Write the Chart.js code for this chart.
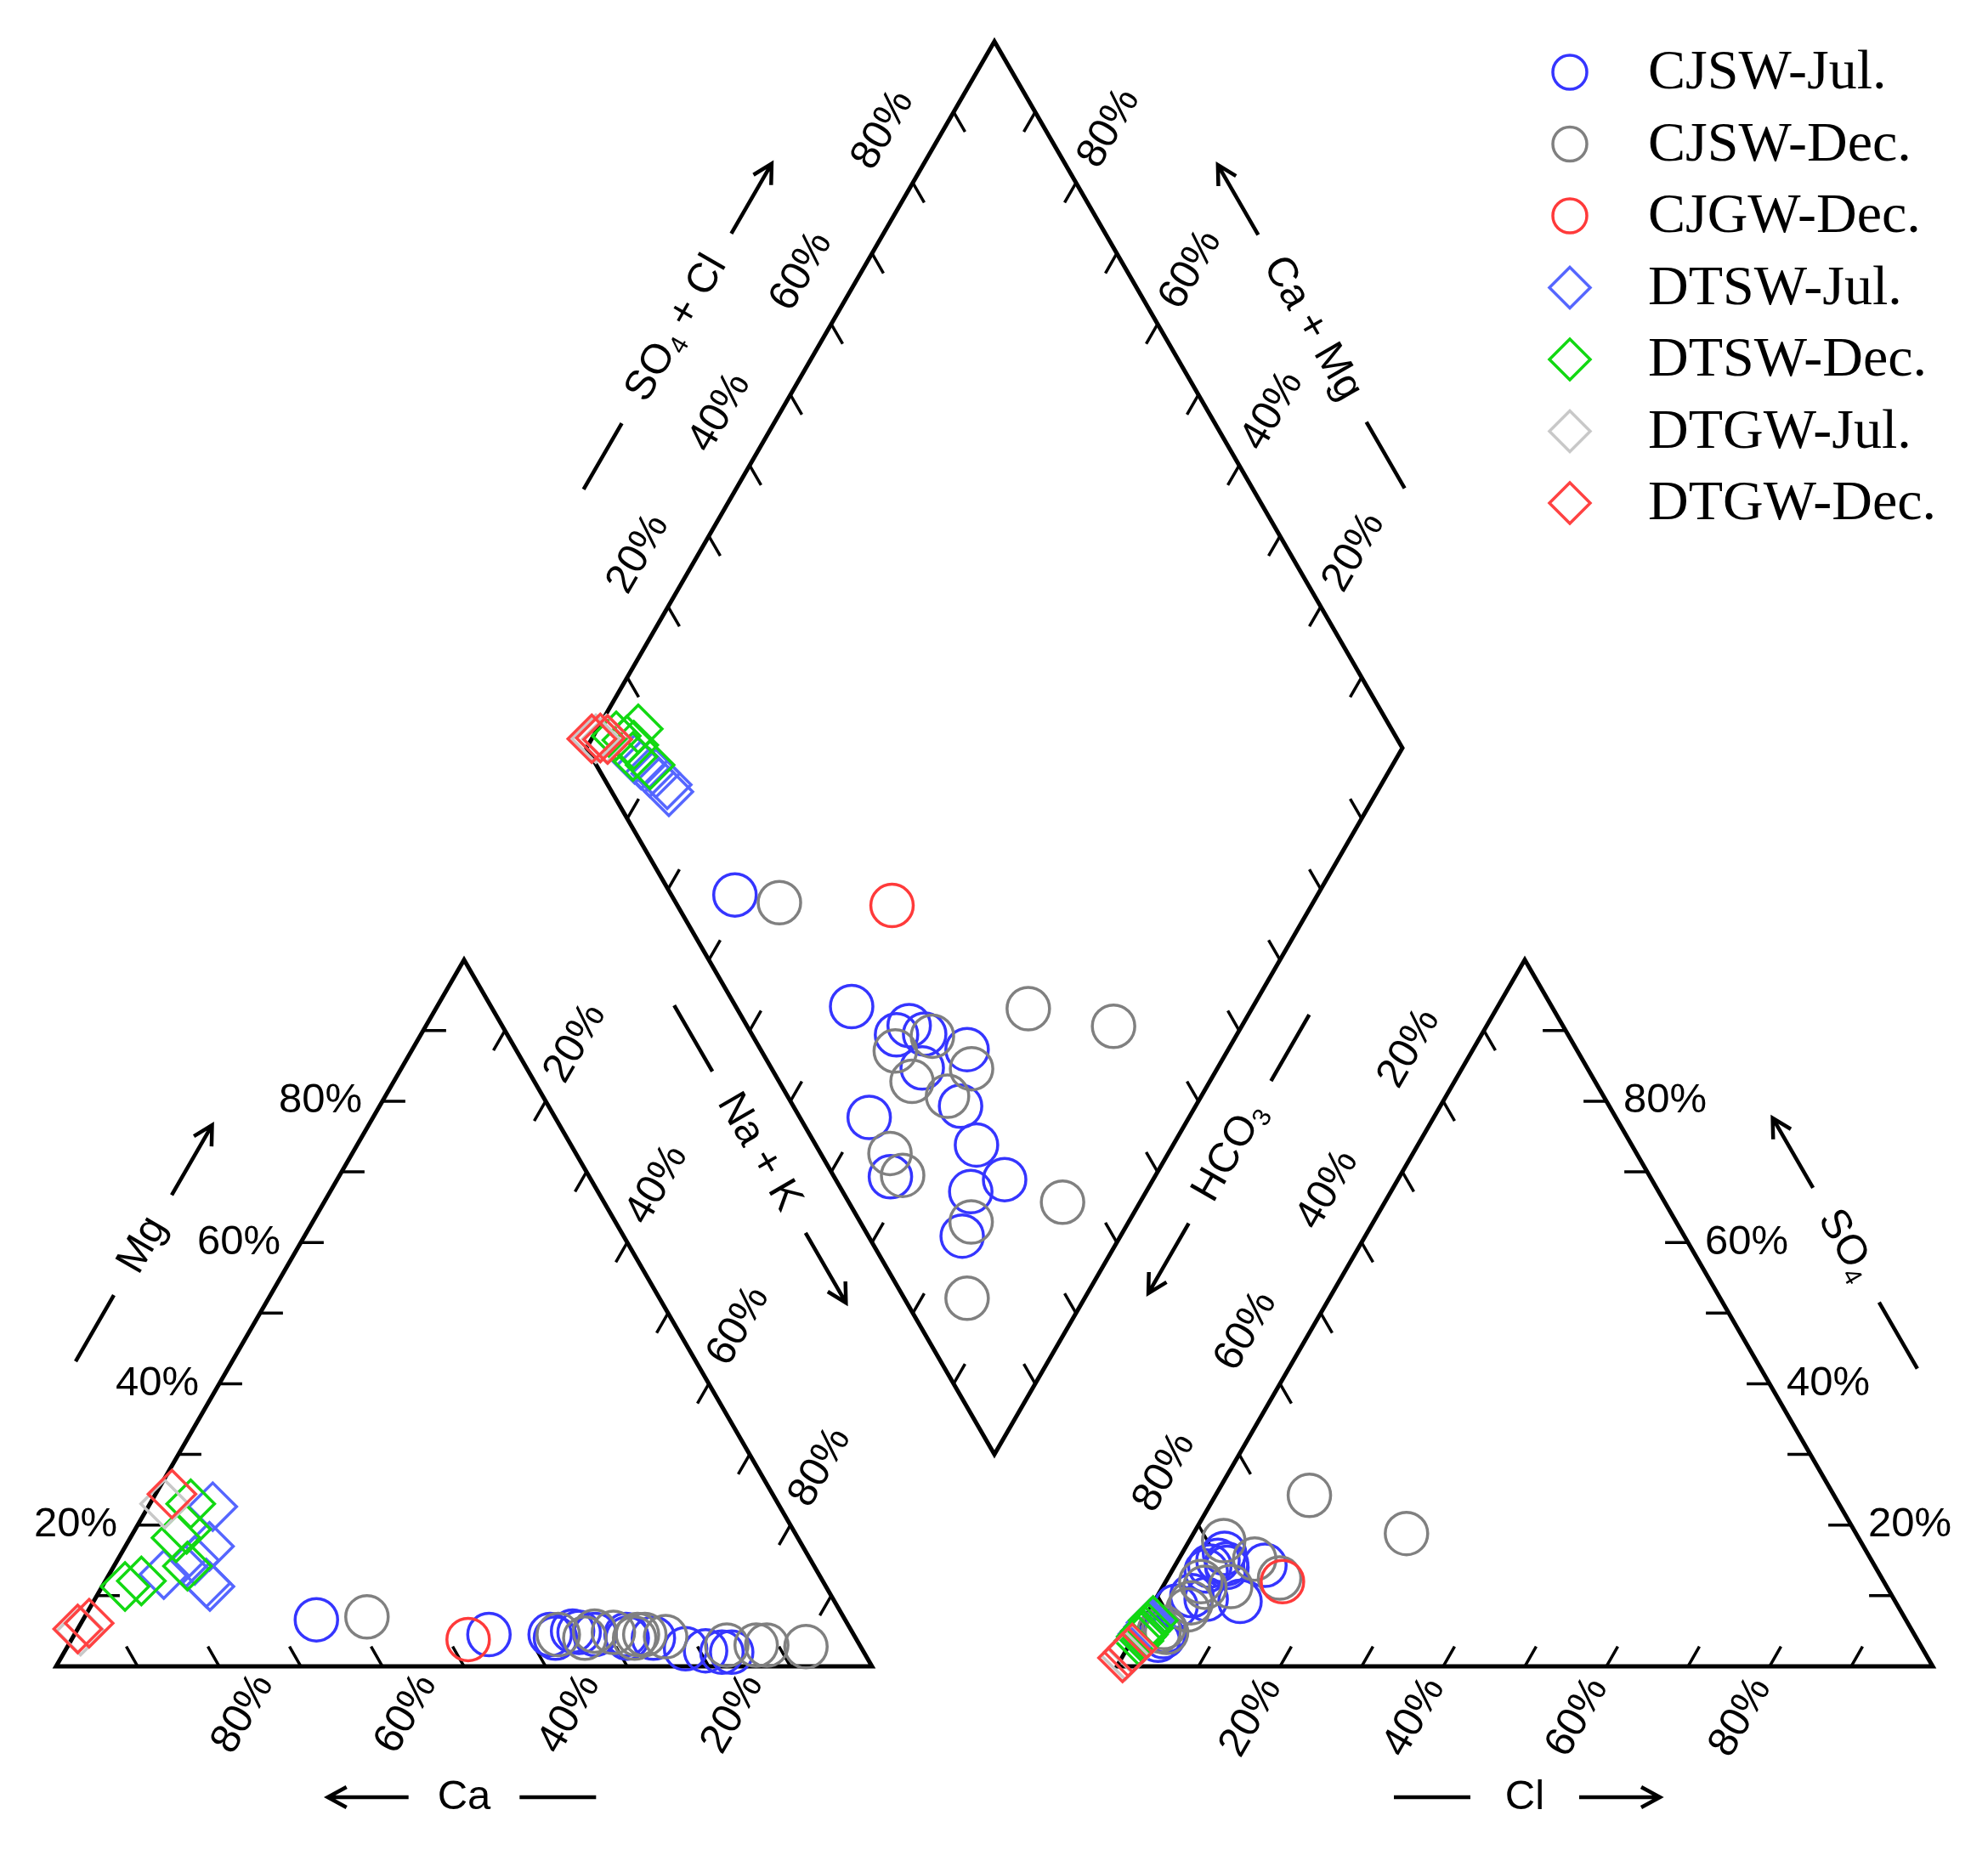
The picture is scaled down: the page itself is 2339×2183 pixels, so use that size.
<!DOCTYPE html>
<html>
<head>
<meta charset="utf-8">
<script src="https://cdn.jsdelivr.net/npm/chart.js@4.4.1/dist/chart.umd.min.js"></script>
<style>
  html, body { margin: 0; padding: 0; background: #fff; }
  #wrap { width: 2339px; height: 2183px; }
</style>
</head>
<body>
<div id="wrap"><canvas id="piper" width="2339" height="2183"></canvas></div>
<script>
// Grupos de muestras (mismo orden que la leyenda)
const grupos = ['CJSW-Jul.', 'CJSW-Dec.', 'CJGW-Dec.', 'DTSW-Jul.', 'DTSW-Dec.', 'DTGW-Jul.', 'DTGW-Dec.'];
const colores = ['#3535ff', '#808080', '#ff3a3a', '#5566ff', '#12d812', '#c8c8c8', '#ff4242'];
const formas = ['circle', 'circle', 'circle', 'rectRot', 'rectRot', 'rectRot', 'rectRot'];

// Porcentajes (meq) por muestra, un arreglo por grupo
const mgPct = [
    [6.6, 4.5, 4.5, 4.0, 4.8, 4.0, 4.5, 5.0, 4.0, 2.5, 2.0, 4.5, 2.2, 2.0],
    [7.0, 4.2, 3.0, 4.5, 4.0, 4.5, 5.0, 4.0, 4.8, 4.5, 3.0, 2.8, 3.0],
    [3.8],
    [22.6, 17.0, 11.8, 13.0, 11.3, 15.0],
    [11.3, 12.1, 19.4, 23.0, 18.2, 14.2],
    [23.0, 5.0],
    [24.4, 5.3, 6.1]
];
const nakPct = [
    [28.6, 50.8, 58.3, 59.2, 61.7, 68.0, 63.8, 60.8, 71.2, 75.9, 81.8, 67.6, 78.5, 80.6],
    [34.6, 72.6, 84.3, 59.3, 62.8, 69.9, 63.5, 68.9, 65.9, 69.0, 80.7, 90.5, 85.6],
    [48.6],
    [7.9, 10.3, 12.5, 6.7, 13.2, 9.5],
    [2.8, 4.4, 6.3, 5.0, 5.6, 9.0],
    [1.8, 0.5],
    [2.0, 0.0, 1.0]
];
const so4Pct = [
    [4.2, 10.0, 13.5, 15.0, 16.0, 14.3, 14.2, 5.0, 14.0, 9.2, 14.5, 3.7, 9.5, 8.5],
    [8.0, 24.2, 18.8, 11.2, 17.8, 15.2, 12.0, 11.3, 4.8, 5.5, 9.0, 12.5, 5.0],
    [12.0],
    [4.6, 5.6, 6.2, 4.2, 5.8, 5.0],
    [3.6, 4.5, 4.2, 6.5, 5.0, 5.4],
    [2.5, 1.5],
    [2.6, 1.2, 2.0]
];
const clPct = [
    [3.6, 4.2, 4.2, 4.9, 5.2, 11.0, 4.3, 3.5, 6.5, 10.5, 6.2, 3.2, 6.2, 3.0],
    [4.7, 11.5, 26.1, 5.2, 4.2, 9.3, 4.3, 8.3, 3.7, 3.0, 4.6, 13.7, 2.7],
    [14.3],
    [0.9, 1.1, 1.1, 0.9, 1.2, 1.0],
    [0.9, 1.0, 0.9, 1.2, 1.0, 1.2],
    [0.6, 0.3],
    [0.6, 0.1, 0.4]
];

// Marcas de los ejes
const marcasPct = [10, 20, 30, 40, 50, 60, 70, 80, 90];
const etiquetasPct = [20, 40, 60, 80];

// Geometría del diagrama de Piper (lado del triángulo = 1)
const G = 0.3;
const S = Math.sqrt(3) / 2;

function cat(mg, nak) { return { x: nak + mg / 2, y: mg * S }; }
function an(so4, cl) { return { x: 1 + G + cl + so4 / 2, y: so4 * S }; }
function dia(camg, so4cl) { return { x: 1 + G / 2 + (so4cl - camg) / 2, y: G * S + S * (camg + so4cl) }; }

const hueco = { x: NaN, y: NaN };

// Contornos
const contorno = [
    cat(0, 0), cat(0, 1), cat(1, 0), cat(0, 0), cat(0, 1), hueco,
    an(0, 0), an(0, 1), an(1, 0), an(0, 0), an(0, 1), hueco,
    dia(0, 0), dia(0, 1), dia(1, 1), dia(1, 0), dia(0, 0), dia(0, 1)
];

// Marcas cortas hacia dentro
const largo = 0.028;
const marcas = [];
marcasPct.forEach(p => {
    const t = p / 100, d = largo;
    marcas.push(cat(0, t), cat(d, t - d), hueco);
    marcas.push(cat(t, 0), cat(t, d), hueco);
    marcas.push(cat(1 - t, t), cat(1 - t - d, t), hueco);
    marcas.push(an(0, t), an(d, t), hueco);
    marcas.push(an(t, 1 - t), an(t, 1 - t - d), hueco);
    marcas.push(an(t, 0), an(t - d, d), hueco);
    marcas.push(dia(1, t), dia(1 - d, t), hueco);
    marcas.push(dia(t, 1), dia(t, 1 - d), hueco);
    marcas.push(dia(t, 0), dia(t, d), hueco);
    marcas.push(dia(0, t), dia(d, t), hueco);
});

// Puntos de cada grupo en los tres diagramas
const datasets = grupos.map((nombre, i) => {
    const pts = [];
    mgPct[i].forEach((mg, k) => pts.push(cat(mg / 100, nakPct[i][k] / 100)));
    so4Pct[i].forEach((so4, k) => pts.push(an(so4 / 100, clPct[i][k] / 100)));
    mgPct[i].forEach((mg, k) => {
        const camg = 1 - nakPct[i][k] / 100;
        const so4cl = (so4Pct[i][k] + clPct[i][k]) / 100;
        pts.push(dia(camg, so4cl));
    });
    const esCirculo = formas[i] === 'circle';
    return {
        label: nombre,
        data: pts,
        showLine: false,
        pointStyle: formas[i],
        pointRadius: esCirculo ? 25 : 28,
        pointBorderWidth: 3.5,
        pointBorderColor: colores[i],
        pointBackgroundColor: 'rgba(0,0,0,0)',
        order: 10 - i
    };
});

datasets.push({
    label: 'contorno', data: contorno, showLine: true, pointRadius: 0,
    borderColor: '#000', borderWidth: 5, borderJoinStyle: 'miter', spanGaps: false, order: 30
});
datasets.push({
    label: 'marcas', data: marcas, showLine: true, pointRadius: 0,
    borderColor: '#000', borderWidth: 3.5, spanGaps: false, order: 31
});

const FUENTE = '"Liberation Sans", Arial, sans-serif';
const TAM = 49;

function anchoPartes(ctx, partes) {
    let w = 0;
    partes.forEach(p => {
        ctx.font = (p.sub ? Math.round(TAM * 0.62) : TAM) + 'px ' + FUENTE;
        w += ctx.measureText(p.t).width;
    });
    return w;
}

function pintarPartes(ctx, partes, x0) {
    let x = x0;
    partes.forEach(p => {
        ctx.font = (p.sub ? Math.round(TAM * 0.62) : TAM) + 'px ' + FUENTE;
        ctx.fillText(p.t, x, p.sub ? TAM * 0.28 : 0);
        x += ctx.measureText(p.t).width;
    });
}

function titulo(ctx, c, ang, partes, ladoGuion) {
    ctx.save();
    ctx.translate(c.x, c.y);
    ctx.rotate(ang);
    ctx.textAlign = 'left';
    ctx.textBaseline = 'middle';
    const w = anchoPartes(ctx, partes);
    pintarPartes(ctx, partes, -w / 2);
    const g = Math.max(64, w / 2 + 34);
    ctx.lineWidth = 4.5;
    ctx.lineCap = 'butt';
    ctx.beginPath();
    ctx.moveTo(ladoGuion * g, 0);
    ctx.lineTo(ladoGuion * (g + 90), 0);
    const s = -ladoGuion;
    const punta = s * (g + 95);
    ctx.moveTo(s * g, 0);
    ctx.lineTo(punta, 0);
    ctx.moveTo(punta - s * 22, -12);
    ctx.lineTo(punta, 0);
    ctx.lineTo(punta - s * 22, 12);
    ctx.stroke();
    ctx.restore();
}

function etiqueta(ctx, p, dx, dy, ang, txt, alinear) {
    ctx.save();
    ctx.translate(p.x + dx, p.y + dy);
    ctx.rotate(ang);
    ctx.font = TAM + 'px ' + FUENTE;
    ctx.textAlign = alinear || 'center';
    ctx.textBaseline = 'middle';
    ctx.fillText(txt, 0, 0);
    ctx.restore();
}

const textosPiper = {
    id: 'textosPiper',
    afterDatasetsDraw(chart) {
        const ctx = chart.ctx;
        const sx = chart.scales.x, sy = chart.scales.y;
        const px = p => ({ x: sx.getPixelForValue(p.x), y: sy.getPixelForValue(p.y) });
        const R = -Math.PI / 3;
        ctx.save();
        ctx.fillStyle = '#000';
        ctx.strokeStyle = '#000';

        etiquetasPct.forEach(v => {
            const t = v / 100, txt = v + '%';
            etiqueta(ctx, px(cat(0, 1 - t)), 28, 56, R, txt);          // Ca
            etiqueta(ctx, px(cat(t, 0)), -24, 0, 0, txt, 'right');     // Mg
            etiqueta(ctx, px(cat(1 - t, t)), 35, -68, R, txt);         // Na + K
            etiqueta(ctx, px(an(0, t)), -34, 60, R, txt);              // Cl
            etiqueta(ctx, px(an(t, 1 - t)), 20, 0, 0, txt, 'left');    // SO4
            etiqueta(ctx, px(an(1 - t, 0)), -40, -62, R, txt);         // HCO3
            etiqueta(ctx, px(dia(1, t)), -35, -62, R, txt);            // SO4 + Cl
            etiqueta(ctx, px(dia(t, 1)), 39, -64, R, txt);             // Ca + Mg
        });

        const mas = (p, dx, dy) => ({ x: p.x + dx, y: p.y + dy });
        titulo(ctx, mas(px(cat(0.5, 0)), -138, -80), R, [{ t: 'Mg' }], -1);
        titulo(ctx, mas(px(cat(0, 0.5)), 0, 154), 0, [{ t: 'Ca' }], 1);
        titulo(ctx, mas(px(an(0, 0.5)), 0, 154), 0, [{ t: 'Cl' }], -1);
        titulo(ctx, mas(px(an(0.5, 0.5)), 138, -80), -R, [{ t: 'SO' }, { t: '4', sub: true }], 1);
        titulo(ctx, mas(px(dia(1, 0.5)), -134, -78), R,
            [{ t: 'SO' }, { t: '4', sub: true }, { t: ' + Cl' }], -1);
        titulo(ctx, mas(px(dia(0.5, 1)), 134, -78), -R, [{ t: 'Ca + Mg' }], 1);
        titulo(ctx, mas(px(dia(0.5, 0)), -37, 60), -R, [{ t: 'Na + K' }], -1);
        titulo(ctx, mas(px(dia(0, 0.5)), 37, 60), R, [{ t: 'HCO' }, { t: '3', sub: true }], 1);

        // Leyenda
        grupos.forEach((nombre, i) => {
            const y = 85 + i * 84.5, x = 1847;
            ctx.strokeStyle = colores[i];
            ctx.lineWidth = 3.5;
            ctx.beginPath();
            if (formas[i] === 'circle') {
                ctx.arc(x, y, 20, 0, Math.PI * 2);
            } else {
                ctx.moveTo(x - 24, y);
                ctx.lineTo(x, y - 24);
                ctx.lineTo(x + 24, y);
                ctx.lineTo(x, y + 24);
                ctx.closePath();
            }
            ctx.stroke();
            ctx.fillStyle = '#000';
            ctx.font = '66px "Liberation Serif", "Times New Roman", serif';
            ctx.textAlign = 'left';
            ctx.textBaseline = 'middle';
            ctx.fillText(nombre, 1939, y + 2);
        });
        ctx.restore();
    }
};

new Chart(document.getElementById('piper').getContext('2d'), {
    type: 'scatter',
    data: { datasets: datasets },
    options: {
        responsive: false,
        animation: false,
        devicePixelRatio: 1,
        events: [],
        layout: { padding: 0, autoPadding: false },
        plugins: { legend: { display: false }, tooltip: { enabled: false } },
        scales: {
            x: { type: 'linear', display: false, min: -66 / 960, max: (2339 - 66) / 960 },
            y: { type: 'linear', display: false, min: (1961 - 2183) / 960, max: 1961 / 960 }
        }
    },
    plugins: [textosPiper]
});
</script>
</body>
</html>
